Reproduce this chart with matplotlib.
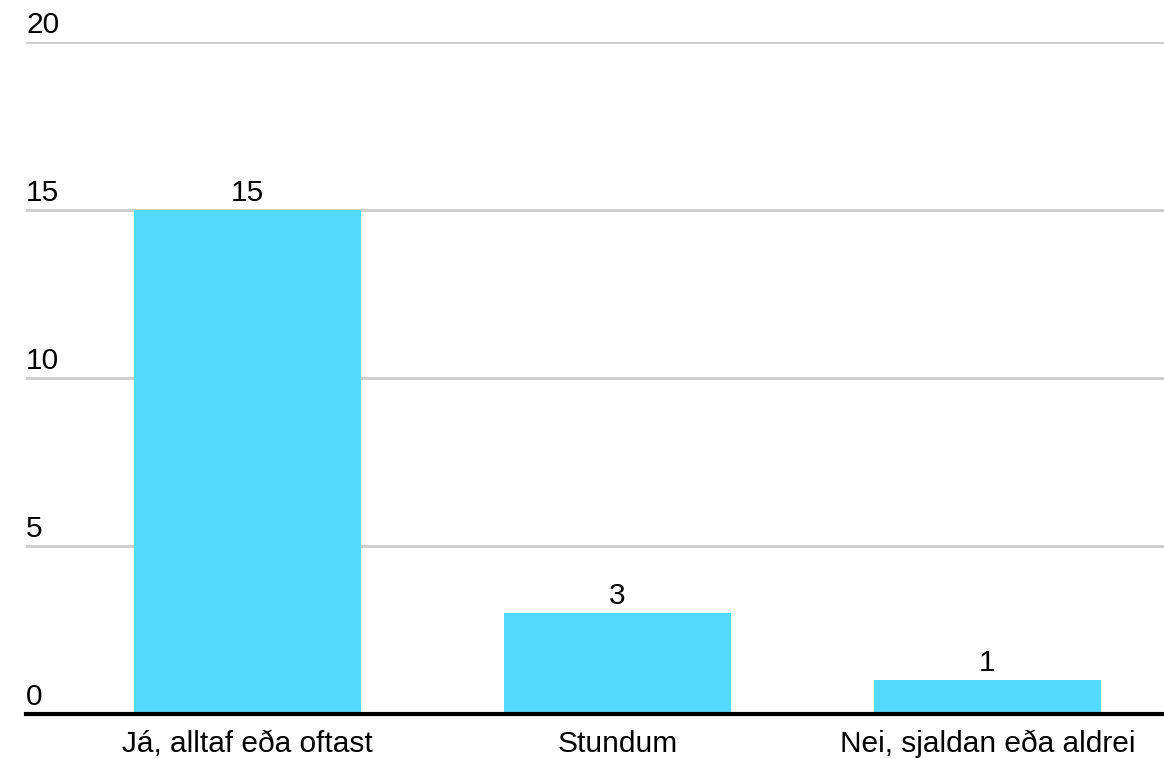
import matplotlib.pyplot as plt
import matplotlib.transforms as mtransforms

categories = ["Já, alltaf eða oftast", "Stundum", "Nei, sjaldan eða aldrei"]
counts = [15, 3, 1]
y_ticks = [0, 5, 10, 15, 20]

plt.rcParams['font.family'] = ['Liberation Sans', 'DejaVu Sans']
FS = 21.5

W, H = 1164, 759
fig = plt.figure(figsize=(W / 100, H / 100), dpi=100)
ax = fig.add_axes([26 / W, 1 - 714 / H, 1 - 26 / W, (714 - 42) / H])

x = list(range(len(categories)))
bars = ax.bar(x, counts, width=0.614, color="#54daff", zorder=3)

ax.set_ylim(0, 20)
ax.set_xlim(-0.599, 2.477)

# gridlines
for t in y_ticks[1:]:
    ax.axhline(t, color="#cccccc", linewidth=2.0, zorder=1)
ax.axhline(0, color="black", linewidth=3.0, zorder=4, clip_on=False)

# y labels sit above the lines, left aligned
trans = mtransforms.blended_transform_factory(ax.transAxes, ax.transData)
for t in y_ticks:
    ax.annotate(str(t), xy=(0, t), xycoords=trans, xytext=(0, 6.5),
                textcoords="offset points", ha="left", va="baseline", fontsize=FS)

# value labels
for xi, v in zip(x, counts):
    ax.annotate(str(v), xy=(xi, v), xytext=(0, 6.5), textcoords="offset points",
                ha="center", va="baseline", fontsize=FS)

# category labels
for xi, c in zip(x, categories):
    ax.annotate(c, xy=(xi, 0), xytext=(0, -27.5), textcoords="offset points",
                ha="center", va="baseline", fontsize=FS, annotation_clip=False)

for s in ax.spines.values():
    s.set_visible(False)
ax.set_xticks([])
ax.set_yticks([])

fig.savefig("out.png", dpi=100)
